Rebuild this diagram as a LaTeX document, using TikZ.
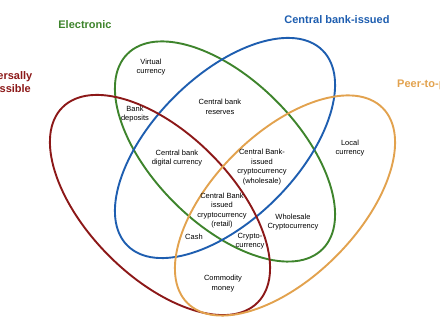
\documentclass[tikz,border=0pt]{standalone}
\usepackage{fontspec}
\setsansfont{Liberation Sans}
\usepackage{tikz}
\tikzset{every picture/.style={/utils/exec={\sffamily}}}
\definecolor{elecgreen}{RGB}{62,132,44}
\definecolor{cbblue}{RGB}{30,94,176}
\definecolor{univred}{RGB}{140,24,24}
\definecolor{ptporange}{RGB}{226,162,78}

\begin{document}
\begin{tikzpicture}[x=1pt, y=1pt, set/.style={line width=1.9pt}, label/.style={align=center, inner sep=0pt, font=\fontsize{7.5}{9.5}\selectfont}, title/.style={align=center, inner sep=0pt, font=\bfseries\fontsize{11}{13}\selectfont}]
        \useasboundingbox (0,0) rectangle (440,320);

        % Sets
        \draw[set, elecgreen, rotate around={-45:(225,168.5)}] (225,168.5) ellipse [x radius=138, y radius=72];
        \draw[set, cbblue, rotate around={45:(225,172)}] (225,172) ellipse [x radius=138, y radius=72];
        \draw[set, univred, rotate around={-45:(160,115)}] (160,115) ellipse [x radius=138, y radius=72];
        \draw[set, ptporange, rotate around={45:(285,114.5)}] (285,114.5) ellipse [x radius=138, y radius=72];

        % Titles
        \node[title, text=elecgreen] (electronic) at (85,295) {Electronic};
        \node[title, text=cbblue] (cbissued) at (337,300) {Central bank-issued};
        \node[title, text=univred] (universal) at (3,237.5) {Universally\\accessible};
        \node[title, text=ptporange, anchor=west] (peer) at (397,235) {Peer-to-peer};

        % Regions
        \node[label] (virtual) at (151,253) {Virtual\\currency};
        \node[label] (reserves) at (220,213) {Central bank\\reserves};
        \node[label] (deposits) at (135,206) {Bank\\deposits};
        \node[label] (local) at (350,172) {Local\\currency};
        \node[label] (cbdc) at (177,162) {Central bank\\digital currency};
        \node[label] (wholesalecb) at (262,153) {Central Bank-\\issued\\cryptocurrency\\(wholesale)};
        \node[label] (retailcb) at (222,109.5) {Central Bank\\issued\\cryptocurrency\\(retail)};
        \node[label] (wholesale) at (293,98) {Wholesale\\Cryptocurrency};
        \node[label] (cash) at (194,83) {Cash};
        \node[label, font=\fontsize{7.5}{8.5}\selectfont] (crypto) at (250,79) {Crypto-\\currency};
        \node[label] (commodity) at (223,36.5) {Commodity\\money};
    \end{tikzpicture}
\end{document}
